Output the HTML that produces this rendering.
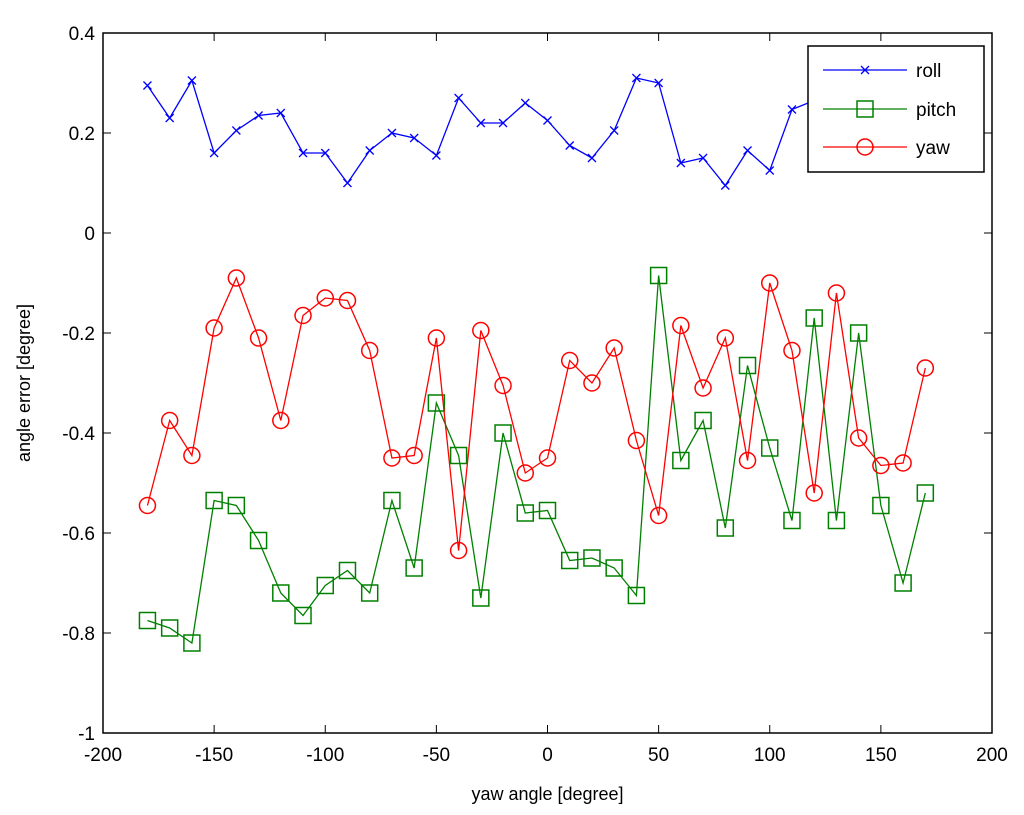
<!DOCTYPE html>
<html><head><meta charset="utf-8"><style>
body{margin:0;background:#fff;}
svg{display:block;font-family:"Liberation Sans",sans-serif;}
</style></head><body>
<svg id="chart" width="1024" height="815"></svg>
<script>
const xs=[-180,-170,-160,-150,-140,-130,-120,-110,-100,-90,-80,-70,-60,-50,-40,-30,-20,-10,0,10,20,30,40,50,60,70,80,90,100,110,120,130,140,150,160,170];
const roll=[0.295,0.23,0.305,0.16,0.205,0.235,0.24,0.16,0.16,0.10,0.165,0.20,0.19,0.155,0.27,0.22,0.22,0.26,0.225,0.175,0.15,0.205,0.31,0.30,0.14,0.15,0.095,0.165,0.125,0.247,0.265,0.27,0.25,0.23,0.25,0.26];
const pitch=[-0.775,-0.79,-0.82,-0.535,-0.545,-0.615,-0.72,-0.765,-0.705,-0.675,-0.72,-0.535,-0.67,-0.34,-0.445,-0.73,-0.40,-0.56,-0.555,-0.655,-0.65,-0.67,-0.725,-0.085,-0.455,-0.375,-0.59,-0.265,-0.43,-0.575,-0.17,-0.575,-0.20,-0.545,-0.70,-0.52];
const yaw=[-0.545,-0.375,-0.445,-0.19,-0.09,-0.21,-0.375,-0.165,-0.13,-0.135,-0.235,-0.45,-0.445,-0.21,-0.635,-0.195,-0.305,-0.48,-0.45,-0.255,-0.30,-0.23,-0.415,-0.565,-0.185,-0.31,-0.21,-0.455,-0.10,-0.235,-0.52,-0.12,-0.41,-0.465,-0.46,-0.27];
const xTicks=[-200,-150,-100,-50,0,50,100,150,200];
const yTicks=[0.4,0.2,0,-0.2,-0.4,-0.6,-0.8,-1];
const yTickLabels=["0.4","0.2","0","-0.2","-0.4","-0.6","-0.8","-1"];

const L=103,R=992,T=33,B=733;
const X=v=>L+(v+200)/400*(R-L);
const Y=v=>T+(0.4-v)/1.4*(B-T);
const svg=document.getElementById('chart');
const NS='http://www.w3.org/2000/svg';
function mk(tag,attrs,parent){const e=document.createElementNS(NS,tag);for(const k in attrs)e.setAttribute(k,attrs[k]);(parent||svg).appendChild(e);return e;}

const frame=mk('rect',{x:L,y:T,width:R-L,height:B-T,fill:'#fff',stroke:'#000','stroke-width':1.5});



xTicks.forEach(t=>{
  const x=X(t);
  mk('line',{x1:x,y1:B,x2:x,y2:B-8,stroke:'#000'});
  mk('line',{x1:x,y1:T,x2:x,y2:T+8,stroke:'#000'});
  const tx=mk('text',{x:x,y:B+28,'text-anchor':'middle','font-size':19});
  tx.textContent=String(t);
  
  
});
yTicks.forEach((t,i)=>{
  const y=Y(t);
  mk('line',{x1:L,y1:y,x2:L+8,y2:y,stroke:'#000'});
  mk('line',{x1:R,y1:y,x2:R-8,y2:y,stroke:'#000'});
  const tx=mk('text',{x:L-8,y:y+7,'text-anchor':'end','font-size':19});
  tx.textContent=yTickLabels[i];
  
  
});
const xl=mk('text',{x:(L+R)/2,y:800,'text-anchor':'middle','font-size':18});
xl.textContent='yaw angle [degree]';


const yl=mk('text',{x:0,y:0,'text-anchor':'middle','font-size':18,transform:`translate(30,${(T+B)/2}) rotate(-90)`});
yl.textContent='angle error [degree]';



function marker(type,x,y,color,g){
  if(type==='x'){mk('path',{d:`M${x-4},${y-4}L${x+4},${y+4}M${x-4},${y+4}L${x+4},${y-4}`,stroke:color,'stroke-width':1.3,fill:'none'},g);}
  else if(type==='s'){mk('rect',{x:x-8,y:y-8,width:16,height:16,stroke:color,'stroke-width':1.5,fill:'none'},g);}
  else {mk('circle',{cx:x,cy:y,r:8,stroke:color,'stroke-width':1.5,fill:'none'},g);}
}
function series(vals,color,type,name){
  const g=mk('g',{});
  
  
  mk('polyline',{points:xs.map((x,i)=>X(x)+','+Y(vals[i])).join(' '),fill:'none',stroke:color,'stroke-width':1.3},g);
  xs.forEach((x,i)=>marker(type,X(x),Y(vals[i]),color,g));
}
series(pitch,'#008000','s','pitch');
series(yaw,'#ff0000','o','yaw');
series(roll,'#0000ff','x','roll');

const lg=mk('g',{});


mk('rect',{x:808,y:46,width:176,height:126,fill:'#fff',stroke:'#000','stroke-width':1.5},lg);
[['roll','#0000ff','x',70],['pitch','#008000','s',109],['yaw','#ff0000','o',147]].forEach(([n,c,t,y])=>{
  const e=mk('g',{},lg);
  
  
  mk('line',{x1:823,y1:y,x2:907,y2:y,stroke:c,'stroke-width':1.3},e);
  marker(t,865,y,c,e);
  const tx=mk('text',{x:916,y:y+7,'font-size':19},e);
  tx.textContent=n;
});
</script>
</body></html>
